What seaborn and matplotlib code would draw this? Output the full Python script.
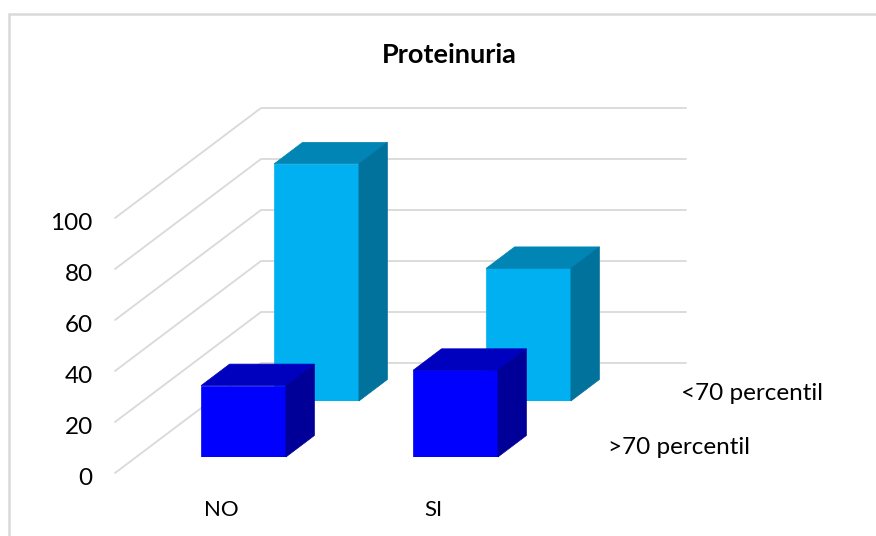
import matplotlib
matplotlib.use("Agg")
import matplotlib.pyplot as plt
from matplotlib.lines import Line2D
from matplotlib.patches import Polygon
from matplotlib.transforms import ScaledTranslation
import seaborn as sns

# values
categories = ["NO", "SI"]
series_names = ["<70 percentil", ">70 percentil"]
back_values = [93, 52]
front_values = [28, 34]
y_ticks = [0, 20, 40, 60, 80, 100]
title = "Proteinuria"

W, H = 876, 536
PX_PER_UNIT = 2.55
Y_RANGE = 130

sns.set_theme(style="white")
plt.rcParams["font.family"] = ["Lato", "DejaVu Sans"]

fig = plt.figure(figsize=(W / 100, H / 100), dpi=100)


def px_axes(left, right, top, bottom):
    ax = fig.add_axes([left / W, 1 - bottom / H, (right - left) / W, (bottom - top) / H])
    ax.patch.set_alpha(0)
    sns.despine(ax=ax, left=True, bottom=True)
    return ax


def bars_3d(ax, values, front, top_col, side_col):
    sns.barplot(x=categories, y=values, color=front, saturation=1, width=0.4, ax=ax,
                edgecolor=front, linewidth=0.5)
    ax.set_xlim(-0.5, 1.5)
    ax.set_ylim(0, Y_RANGE)
    ax.set_ylabel("")
    ax.set_yticks([])
    dx = 28.5 / 212
    dy = 21.5 / PX_PER_UNIT
    for bar in list(ax.patches):
        x0, x1 = bar.get_x(), bar.get_x() + bar.get_width()
        h = bar.get_height()
        ax.add_patch(Polygon([(x0, h), (x1, h), (x1 + dx, h + dy), (x0 + dx, h + dy)],
                             facecolor=top_col, edgecolor=top_col, lw=0.5, clip_on=False))
        ax.add_patch(Polygon([(x1, 0), (x1 + dx, dy), (x1 + dx, h + dy), (x1, h)],
                             facecolor=side_col, edgecolor=side_col, lw=0.5, clip_on=False))


# chart frame, only the left and top edges are inside the picture
fig.add_artist(Line2D([8.5 / W, 8.5 / W], [0, 1 - 13.5 / H], color="#D9D9D9", lw=1.8))
fig.add_artist(Line2D([8.5 / W, 1], [1 - 13.5 / H, 1 - 13.5 / H], color="#D9D9D9", lw=1.8))

# walls with gridlines, the y tick labels sit on the front edge
ax_wall = px_axes(115, 686, 108, 473)
ax_wall.set_xlim(0, 571)
ax_wall.set_ylim(0, 365 / PX_PER_UNIT)
depth = 110 / PX_PER_UNIT
for v in y_ticks:
    ax_wall.plot([0, 146, 571], [v, v + depth, v + depth], color="#D9D9D9", lw=1.3, clip_on=False)
ax_wall.set_xticks([])
ax_wall.set_yticks(y_ticks)
ax_wall.set_yticklabels([str(v) for v in y_ticks], fontsize=17.5, color="black")
ax_wall.tick_params(axis="y", length=0, pad=16)
shift_y = ScaledTranslation(0, -2.3 / 72, fig.dpi_scale_trans)
for label in ax_wall.get_yticklabels():
    label.set_transform(label.get_transform() + shift_y)

# back row, then front row
ax_back = px_axes(210.5, 634.5, 401 - Y_RANGE * PX_PER_UNIT, 401)
bars_3d(ax_back, back_values, "#00B0F0", "#0085B5", "#00729B")
ax_back.set_xticks([])

ax_front = px_axes(137.5, 561.5, 457 - Y_RANGE * PX_PER_UNIT, 457)
bars_3d(ax_front, front_values, "#0000FF", "#0000BF", "#000099")
ax_front.tick_params(axis="x", length=0, pad=31, labelsize=16, labelcolor="black")
shift_x = ScaledTranslation(-22 / 100, 0, fig.dpi_scale_trans)
for label in ax_front.get_xticklabels():
    label.set_transform(label.get_transform() + shift_x)

fig.text(449 / W, 1 - 55 / H, title, ha="center", va="center", fontsize=19.5, fontweight="bold", color="black")
fig.text(681 / W, 1 - 394 / H, series_names[0], ha="left", va="center", fontsize=17.5, color="black")
fig.text(608 / W, 1 - 448 / H, series_names[1], ha="left", va="center", fontsize=17.5, color="black")

fig.savefig("out.png", dpi=100, facecolor="white")
